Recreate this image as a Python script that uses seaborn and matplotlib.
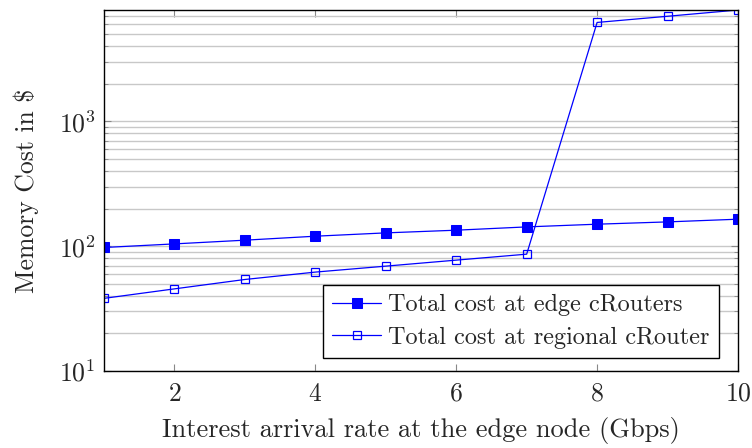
import matplotlib
matplotlib.use("Agg")
import matplotlib.pyplot as plt
import seaborn as sns
import pandas as pd
from matplotlib.ticker import LogLocator, FixedLocator, NullFormatter

# values
rate = [1, 2, 3, 4, 5, 6, 7, 8, 9, 10]
edge_cost = [97.6, 104.3, 111.7, 120.2, 127.8, 134.3, 142.7, 150, 156.5, 164.5]
regional_cost = [38.2, 45.5, 54.1, 62, 69.2, 77.3, 86.3, 6200, 6950, 7800]
labels = ["Total cost at edge cRouters", "Total cost at regional cRouter"]

sns.set_style("ticks")
plt.rcParams["font.family"] = ["cmr10"]
plt.rcParams["mathtext.fontset"] = "cm"
plt.rcParams["axes.formatter.use_mathtext"] = True

df = pd.DataFrame({"rate": rate, "edge": edge_cost, "regional": regional_cost})

fig = plt.figure(figsize=(7.52, 4.48), dpi=100)
ax = fig.add_axes([104/752, 1-371/448, 634/752, 361/448])

sns.lineplot(data=df, x="rate", y="edge", ax=ax, color="blue", lw=0.9,
             marker="s", markersize=6.5, markerfacecolor="blue",
             markeredgecolor="blue", label=labels[0])
sns.lineplot(data=df, x="rate", y="regional", ax=ax, color="blue", lw=0.9,
             marker="s", markersize=6.2, markerfacecolor="none",
             markeredgecolor="blue", markeredgewidth=0.9, label=labels[1])

ax.set_yscale("log")
ax.set_xlim(1, 10)
ax.set_ylim(10, 7800)
ax.xaxis.set_major_locator(FixedLocator([2, 4, 6, 8, 10]))
ax.yaxis.set_major_locator(LogLocator(base=10))
ax.yaxis.set_minor_locator(LogLocator(base=10, subs=range(2, 10)))
ax.yaxis.set_minor_formatter(NullFormatter())

ax.grid(True, axis="y", which="both", color="#c8c8c8", lw=1.0)
ax.set_axisbelow(True)
ax.tick_params(axis="both", which="both", direction="in", top=True, right=True,
               labelsize=18.5, color="#888888")
ax.tick_params(axis="y", which="major", length=5, pad=6)
ax.tick_params(axis="y", which="minor", length=3)
ax.tick_params(axis="x", which="major", length=5, pad=8)
for s in ax.spines.values():
    s.set_color("black")
    s.set_linewidth(1.0)

ax.set_xlabel("Interest arrival rate at the edge node (Gbps)", fontsize=19, labelpad=8)
ax.set_ylabel("Memory Cost in \\$", fontsize=18.5, labelpad=14)

leg = ax.legend(loc="lower right", bbox_to_anchor=(0.970, 0.036), fontsize=17.5,
                frameon=True, fancybox=False, framealpha=1, edgecolor="black",
                borderpad=0.38, handlelength=2.0, handletextpad=0.3,
                labelspacing=0.42, borderaxespad=0)
leg.get_frame().set_linewidth(1.0)

fig.savefig("out.png", dpi=100)
